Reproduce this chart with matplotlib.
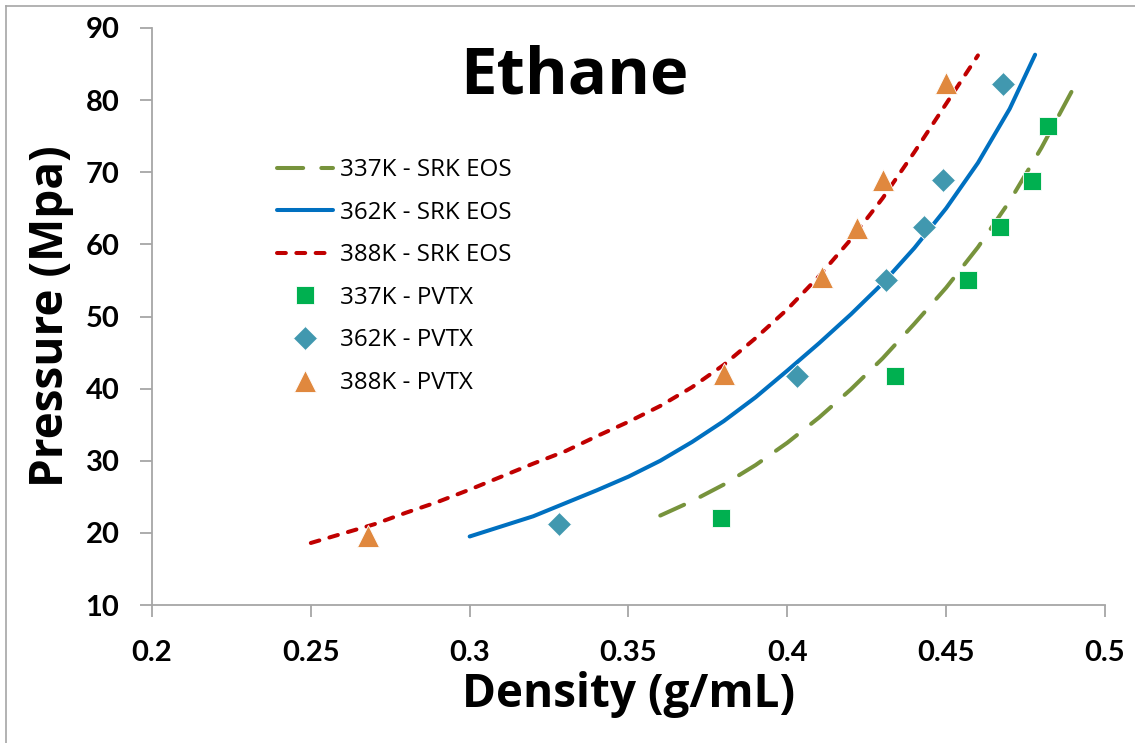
import matplotlib as mpl
mpl.use('Agg')
import matplotlib.pyplot as plt
from matplotlib.lines import Line2D

# SRK EOS curves
eos337_x = [0.36, 0.37, 0.38, 0.39, 0.40, 0.41, 0.42, 0.43, 0.44, 0.45, 0.46, 0.47, 0.48, 0.49]
eos337_y = [22.4, 24.4, 26.7, 29.4, 32.5, 36.0, 39.9, 44.2, 49.0, 54.0, 59.6, 66.0, 73.4, 81.6]

eos362_x = [0.30, 0.31, 0.32, 0.33, 0.34, 0.35, 0.36, 0.37, 0.38, 0.39, 0.40, 0.41,
            0.42, 0.43, 0.44, 0.45, 0.46, 0.47, 0.478]
eos362_y = [19.5, 20.9, 22.3, 24.1, 25.9, 27.8, 30.0, 32.6, 35.5, 38.8, 42.5, 46.3,
            50.3, 54.6, 59.5, 65.0, 71.3, 78.8, 86.3]

eos388_x = [0.25, 0.26, 0.27, 0.28, 0.29, 0.30, 0.31, 0.32, 0.33, 0.34, 0.35, 0.36,
            0.37, 0.38, 0.39, 0.40, 0.41, 0.42, 0.43, 0.44, 0.45, 0.46]
eos388_y = [18.6, 19.9, 21.2, 22.8, 24.3, 26.0, 27.8, 29.6, 31.3, 33.4, 35.4, 37.6,
            40.2, 43.3, 47.0, 51.0, 55.6, 60.7, 66.4, 72.8, 79.5, 86.2]

# PVTX measurements
pvtx337_x = [0.379, 0.434, 0.457, 0.467, 0.477, 0.482]
pvtx337_y = [22.0, 41.8, 55.1, 62.4, 68.8, 76.4]

pvtx362_x = [0.328, 0.403, 0.431, 0.443, 0.449, 0.468]
pvtx362_y = [21.2, 41.7, 55.0, 62.4, 68.9, 82.2]

pvtx388_x = [0.268, 0.380, 0.411, 0.422, 0.430, 0.450]
pvtx388_y = [19.5, 42.0, 55.5, 62.3, 68.9, 82.4]

xticks = [0.2, 0.25, 0.3, 0.35, 0.4, 0.45, 0.5]
xtick_labels = ['0.2', '0.25', '0.3', '0.35', '0.4', '0.45', '0.5']
yticks = [10, 20, 30, 40, 50, 60, 70, 80, 90]

fig = plt.figure(figsize=(11.35, 7.43), dpi=100)
ax = fig.add_axes([152 / 1135, 1 - 605 / 743, (1105 - 152) / 1135, (605 - 28) / 743])

lw = 2.9
ax.plot(eos337_x, eos337_y, color='#77933C', lw=lw, dashes=(6.5, 4.5),
        dash_capstyle='round', label='337K - SRK EOS')
ax.plot(eos362_x, eos362_y, color='#0070C0', lw=lw, solid_capstyle='round',
        label='362K - SRK EOS')
ax.plot(eos388_x, eos388_y, color='#C00000', lw=lw, dashes=(2.2, 2.6),
        dash_capstyle='round', label='388K - SRK EOS')
ax.plot(pvtx337_x, pvtx337_y, ls='none', marker='s', ms=13, color='#00B050',
        mec='white', mew=0.6, label='337K - PVTX')
ax.plot(pvtx362_x, pvtx362_y, ls='none', marker='D', ms=12, color='#4198AF',
        mec='white', mew=0.6, label='362K - PVTX')
ax.plot(pvtx388_x, pvtx388_y, ls='none', marker='^', ms=16, color='#E0883E',
        mec='white', mew=0.6, label='388K - PVTX')

ax.set_xlim(0.2, 0.5)
ax.set_ylim(10, 90)
ax.set_xticks(xticks)
ax.set_xticklabels(xtick_labels)
ax.set_yticks(yticks)

for s in ['top', 'right']:
    ax.spines[s].set_visible(False)
for s in ['left', 'bottom']:
    ax.spines[s].set_color('#A6A6A6')
    ax.spines[s].set_linewidth(1.3)

ax.tick_params(axis='both', direction='out', length=8.5, width=1.3, color='#A6A6A6')
ax.tick_params(axis='x', pad=17)
ax.tick_params(axis='y', pad=15)
for lab in ax.get_xticklabels() + ax.get_yticklabels():
    lab.set_fontfamily('Lato')
    lab.set_fontweight('bold')
    lab.set_fontsize(21)

ax.set_xlabel('Density (g/mL)', fontfamily='Open Sans', fontweight='bold', fontsize=33, labelpad=3)
ax.set_ylabel('Pressure (Mpa)', fontfamily='Open Sans', fontweight='bold', fontsize=33, labelpad=8)

fig.text(574 / 1135, 1 - 77 / 743, 'Ethane', ha='center', va='center',
         fontfamily='Open Sans', fontweight='bold', fontsize=47)

leg = ax.legend(loc='upper left', bbox_to_anchor=(277 / 1135, 1 - 158 / 743),
                bbox_transform=fig.transFigure, frameon=False,
                prop={'family': 'Open Sans', 'size': 17.4}, handlelength=2.3,
                handletextpad=0.3, labelspacing=0.77, borderpad=0, borderaxespad=0,
                numpoints=1)

# chart area border (top and left edges only)
fig.add_artist(Line2D([6 / 1135, 6 / 1135], [0, 1 - 6 / 743], transform=fig.transFigure,
                      color='#A6A6A6', lw=1.2))
fig.add_artist(Line2D([6 / 1135, 1], [1 - 6 / 743, 1 - 6 / 743], transform=fig.transFigure,
                      color='#A6A6A6', lw=1.2))

fig.savefig('out.png', dpi=100)
